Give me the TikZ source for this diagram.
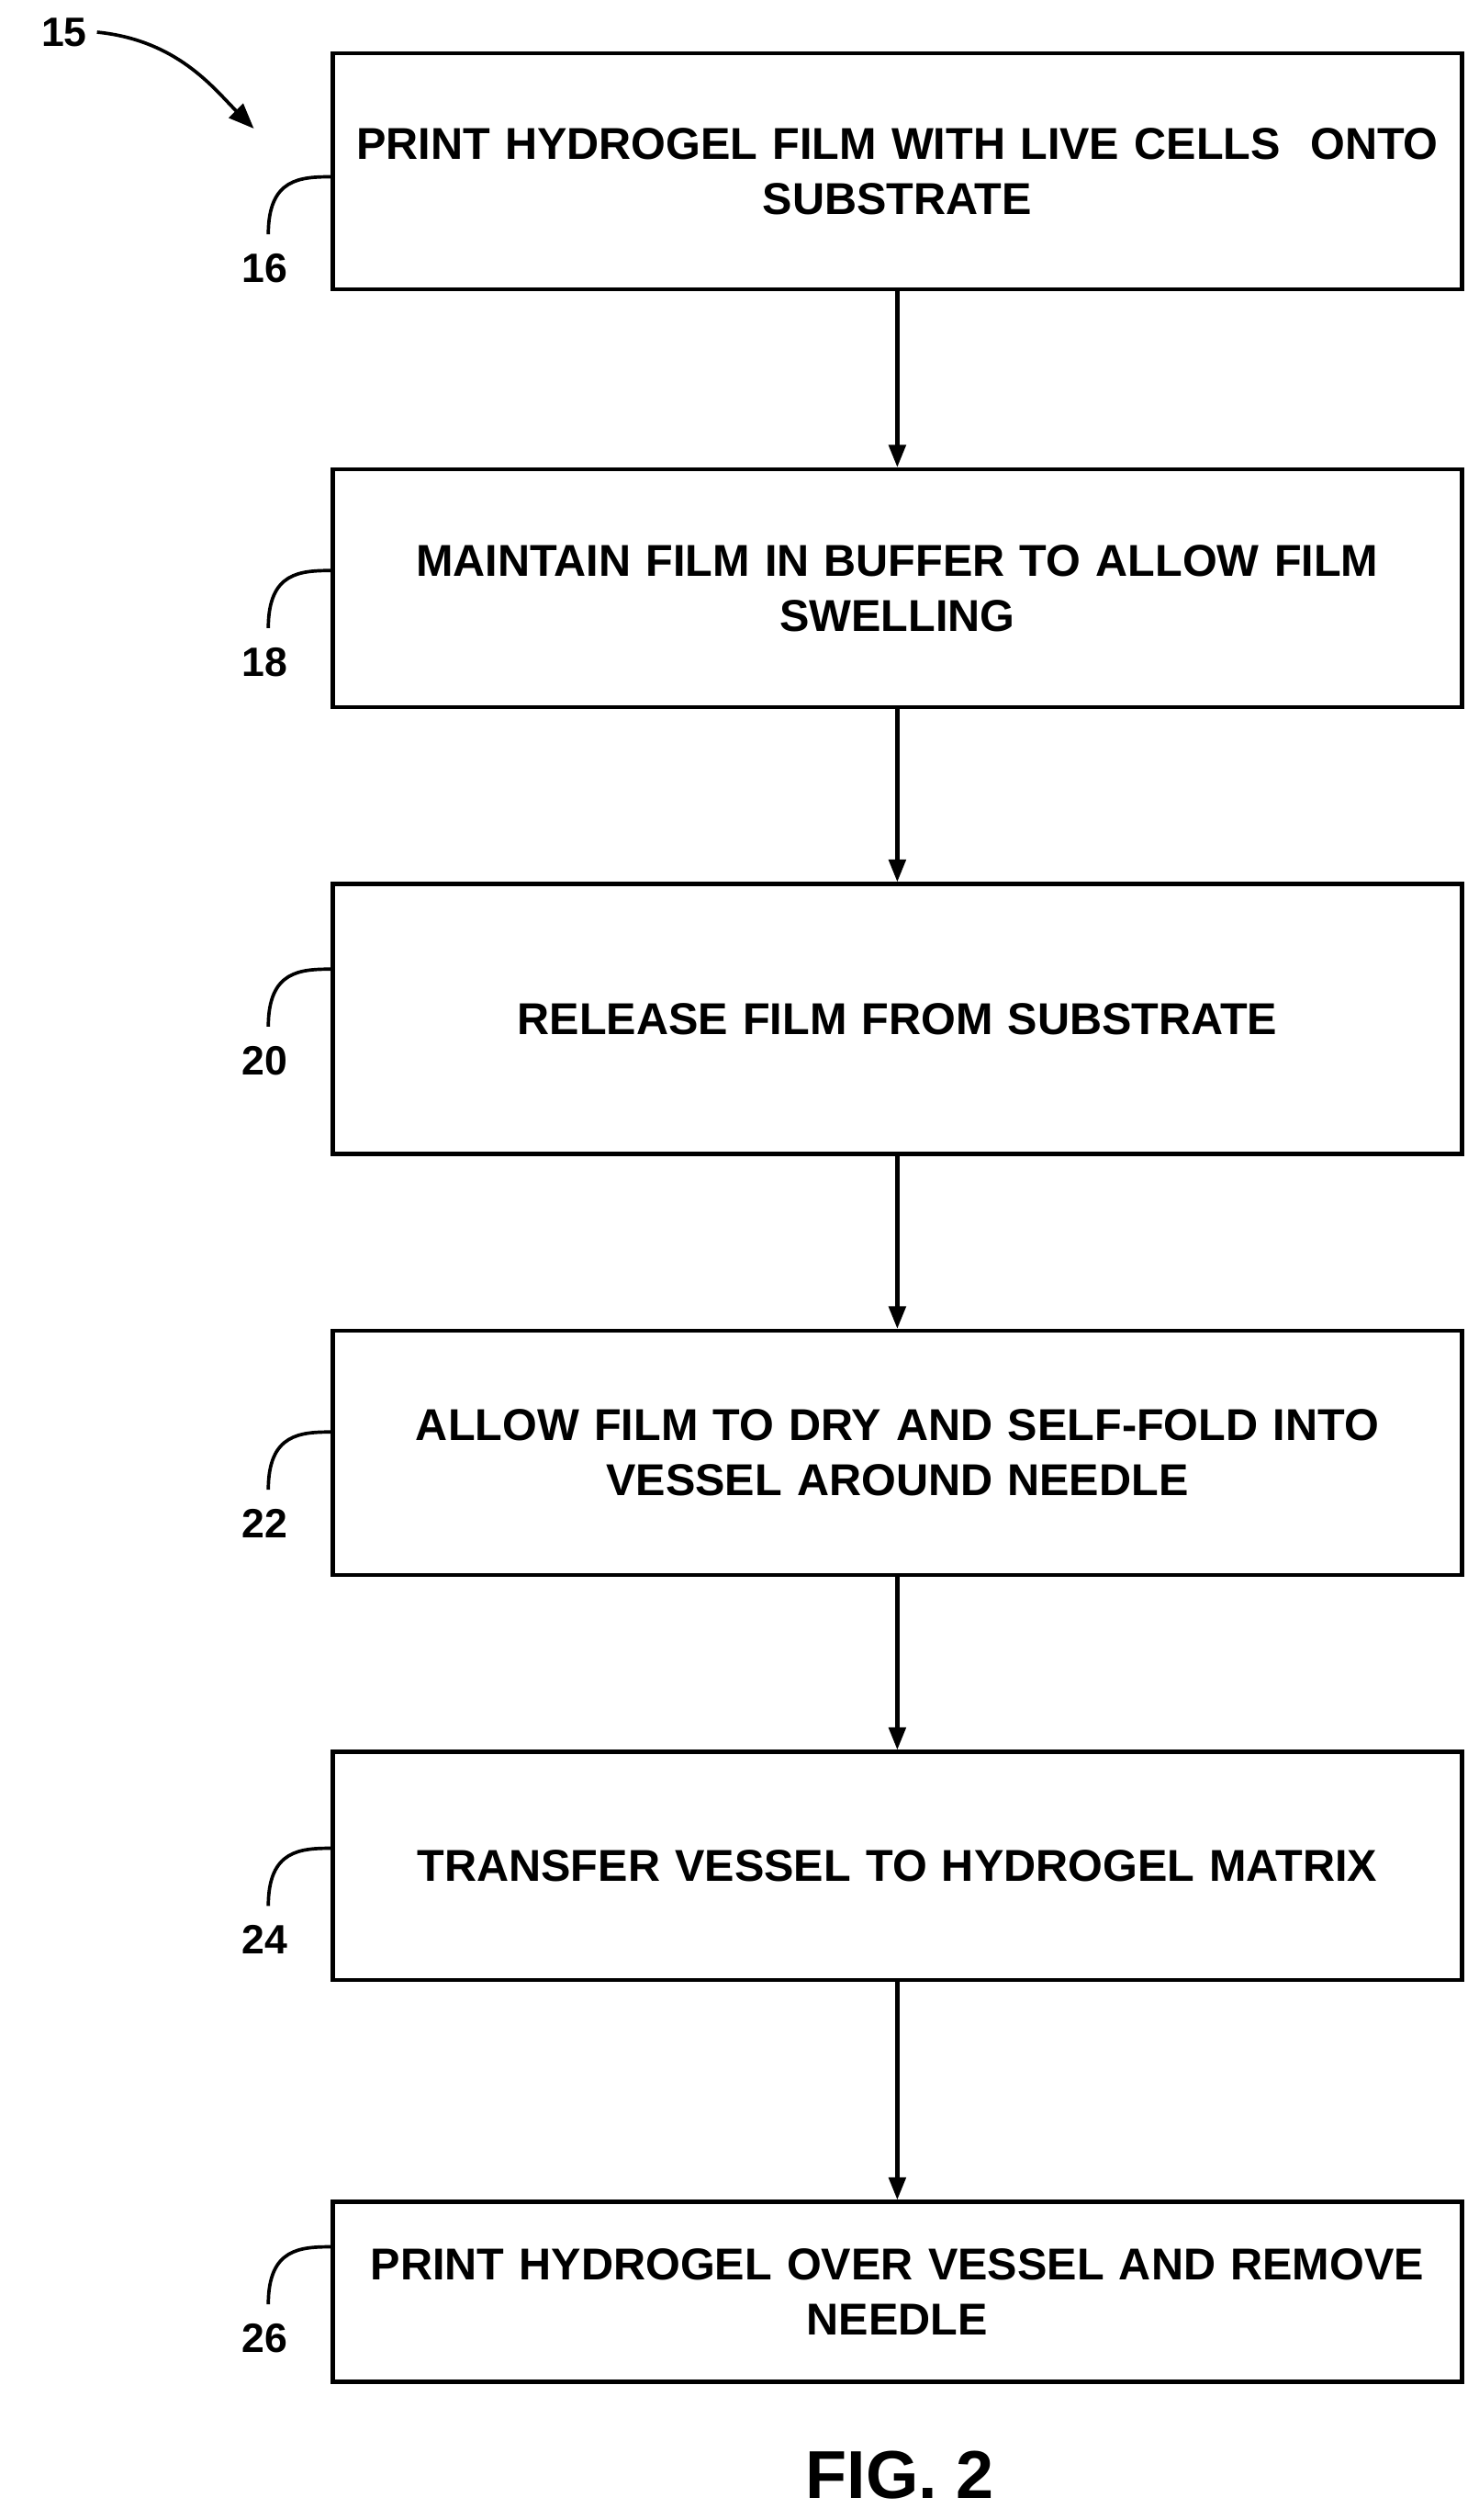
\documentclass[tikz,border=0pt]{standalone}
\usepackage{fontspec}
\setmainfont{Liberation Sans}
\usetikzlibrary{arrows.meta}
\tikzset{
  stepbox/.style={shape=rectangle,draw,line width=1.4pt,minimum width=14.06cm,
    align=center,text width=13.6cm,font=\bfseries\fontsize{15.8}{19.5}\selectfont},
  flow/.style={-{Triangle[length=8pt,width=6pt]},line width=1.4pt},
  ref/.style={font=\bfseries\fontsize{14.5}{17}\selectfont},
  lead/.style={line width=1.2pt}
}
\begin{document}
\begin{tikzpicture}[x=0.02cm,y=-0.02cm]
\useasboundingbox (0,0) rectangle (920,1568);
\node[stepbox,minimum height=2.94cm] (s16) at (558.5,106.5) {PRINT HYDROGEL FILM WITH LIVE CELLS \ ONTO\\SUBSTRATE};
\node[stepbox,minimum height=2.96cm] (s18) at (558.5,366) {MAINTAIN FILM IN BUFFER TO ALLOW FILM\\SWELLING};
\node[stepbox,minimum height=3.36cm] (s20) at (558.5,634) {RELEASE FILM FROM SUBSTRATE};
\node[stepbox,minimum height=3.04cm] (s22) at (558.5,904) {ALLOW FILM TO DRY AND SELF-FOLD INTO\\VESSEL AROUND NEEDLE};
\node[stepbox,minimum height=2.84cm] (s24) at (558.5,1161) {TRANSFER VESSEL TO HYDROGEL MATRIX};
\node[stepbox,minimum height=2.24cm] (s26) at (558.5,1426) {PRINT HYDROGEL OVER VESSEL AND REMOVE\\NEEDLE};
\foreach \a/\b in {s16/s18,s18/s20,s20/s22,s22/s24,s24/s26}
  \draw[flow] (\a) -- (\b);
% reference numerals
\foreach \n/\y in {16/167,18/412,20/660,22/948,24/1207,26/1455}{
  \node[ref] (r\n) at (165,\y) {\n};
  \draw[lead] (r\n.north) ++(2,-6) .. controls +(0,-35) and +(-20,0) .. (207,\y-57);
}
\node[ref] (r15) at (40,20) {15};
\coordinate (a15) at (158,80);
\draw[lead,-{Triangle[length=9pt,width=7pt]}] (r15.east) .. controls +(50,5) and +(-25,-25) .. (a15);
\node[font=\bfseries\fontsize{24}{28}\selectfont] (fig) at (560,1540) {FIG. 2};
\end{tikzpicture}
\end{document}
